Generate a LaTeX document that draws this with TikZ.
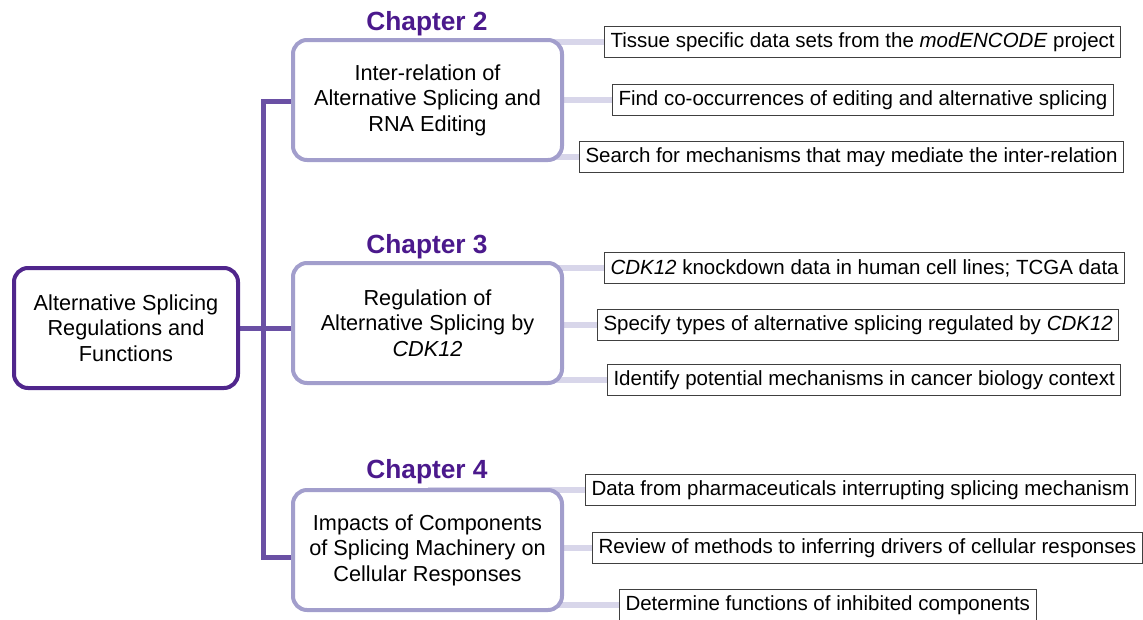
\documentclass[tikz,border=0pt]{standalone}
\usepackage{fontspec}
\setmainfont{Liberation Sans}
\usetikzlibrary{positioning,backgrounds}
\definecolor{rootpurple}{RGB}{80,38,140}
\definecolor{trunkpurple}{RGB}{106,80,164}
\definecolor{chapcol}{RGB}{75,25,140}
\definecolor{boxlav}{RGB}{162,158,204}
\definecolor{linklav}{RGB}{216,214,234}
\begin{document}
\begin{tikzpicture}[x=1pt,y=-1pt,
    rootbox/.style={draw=rootpurple,line width=4pt,rounded corners=14pt,fill=white,
      minimum width=224pt,minimum height=120pt,align=center,
      font=\fontsize{21.7}{25.5}\selectfont},
    chapbox/.style={draw=boxlav,line width=4pt,rounded corners=14pt,fill=white,
      minimum width=269pt,minimum height=120pt,align=center,
      font=\fontsize{21.7}{25.5}\selectfont},
    chaplabel/.style={text=chapcol,font=\bfseries\fontsize{26.3}{30}\selectfont},
    taskbox/.style={draw=black!75,line width=1pt,fill=white,anchor=west,
      minimum height=31pt,inner xsep=6pt,font=\fontsize{20.5}{22}\selectfont},
    trunk/.style={draw=trunkpurple,line width=5pt},
    link/.style={draw=linklav,line width=6pt}]
        \useasboundingbox (0,0) rectangle (1143,619);

        % main topic and chapters
        \node[rootbox] (root) at (126,328) {Alternative Splicing\\Regulations and\\Functions};
        \node[chapbox] (ch2) at (427.5,100) {Inter-relation of\\Alternative Splicing and\\RNA Editing};
        \node[chapbox] (ch3) at (427.5,323) {Regulation of\\Alternative Splicing by\\\textit{CDK12}};
        \node[chapbox] (ch4) at (427.5,550) {Impacts of Components\\of Splicing Machinery on\\Cellular Responses};

        \node[chaplabel] (lab2) at (427,24) {Chapter 2};
        \node[chaplabel] (lab3) at (427,247) {Chapter 3};
        \node[chaplabel] (lab4) at (427,472) {Chapter 4};

        % tasks
        \node[taskbox] (t21) at (604,42) {Tissue specific data sets from the \textit{modENCODE} project};
        \node[taskbox] (t22) at (612,100) {Find co-occurrences of editing and alternative splicing};
        \node[taskbox] (t23) at (579,157) {Search for mechanisms that may mediate the inter-relation};
        \node[taskbox] (t31) at (604,268) {\textit{CDK12} knockdown data in human cell lines; TCGA data};
        \node[taskbox] (t32) at (597,325) {Specify types of alternative splicing regulated by \textit{CDK12}};
        \node[taskbox] (t33) at (607,380) {Identify potential mechanisms in cancer biology context};
        \node[taskbox] (t41) at (585,490) {Data from pharmaceuticals interrupting splicing mechanism};
        \node[taskbox] (t42) at (592,548) {Review of methods to inferring drivers of cellular responses};
        \node[taskbox] (t43) at (619,605) {Determine functions of inhibited components};

        \coordinate (trunktop) at (263,101);
        \coordinate (trunkbot) at (263,557);

        \begin{scope}[on background layer]
            \draw[trunk] (ch2.west |- trunktop) -- (trunktop) -- (trunkbot) -- (ch4.west |- trunkbot);
            \draw[trunk] (root.east) -- (ch3.west |- root.east);
            \foreach \c/\t in {ch2/t21,ch2/t22,ch2/t23,ch3/t31,ch3/t32,ch3/t33,ch4/t41,ch4/t42,ch4/t43}
                \draw[link] (\c.center |- \t.west) -- (\t.west);
        \end{scope}
    \end{tikzpicture}
\end{document}
